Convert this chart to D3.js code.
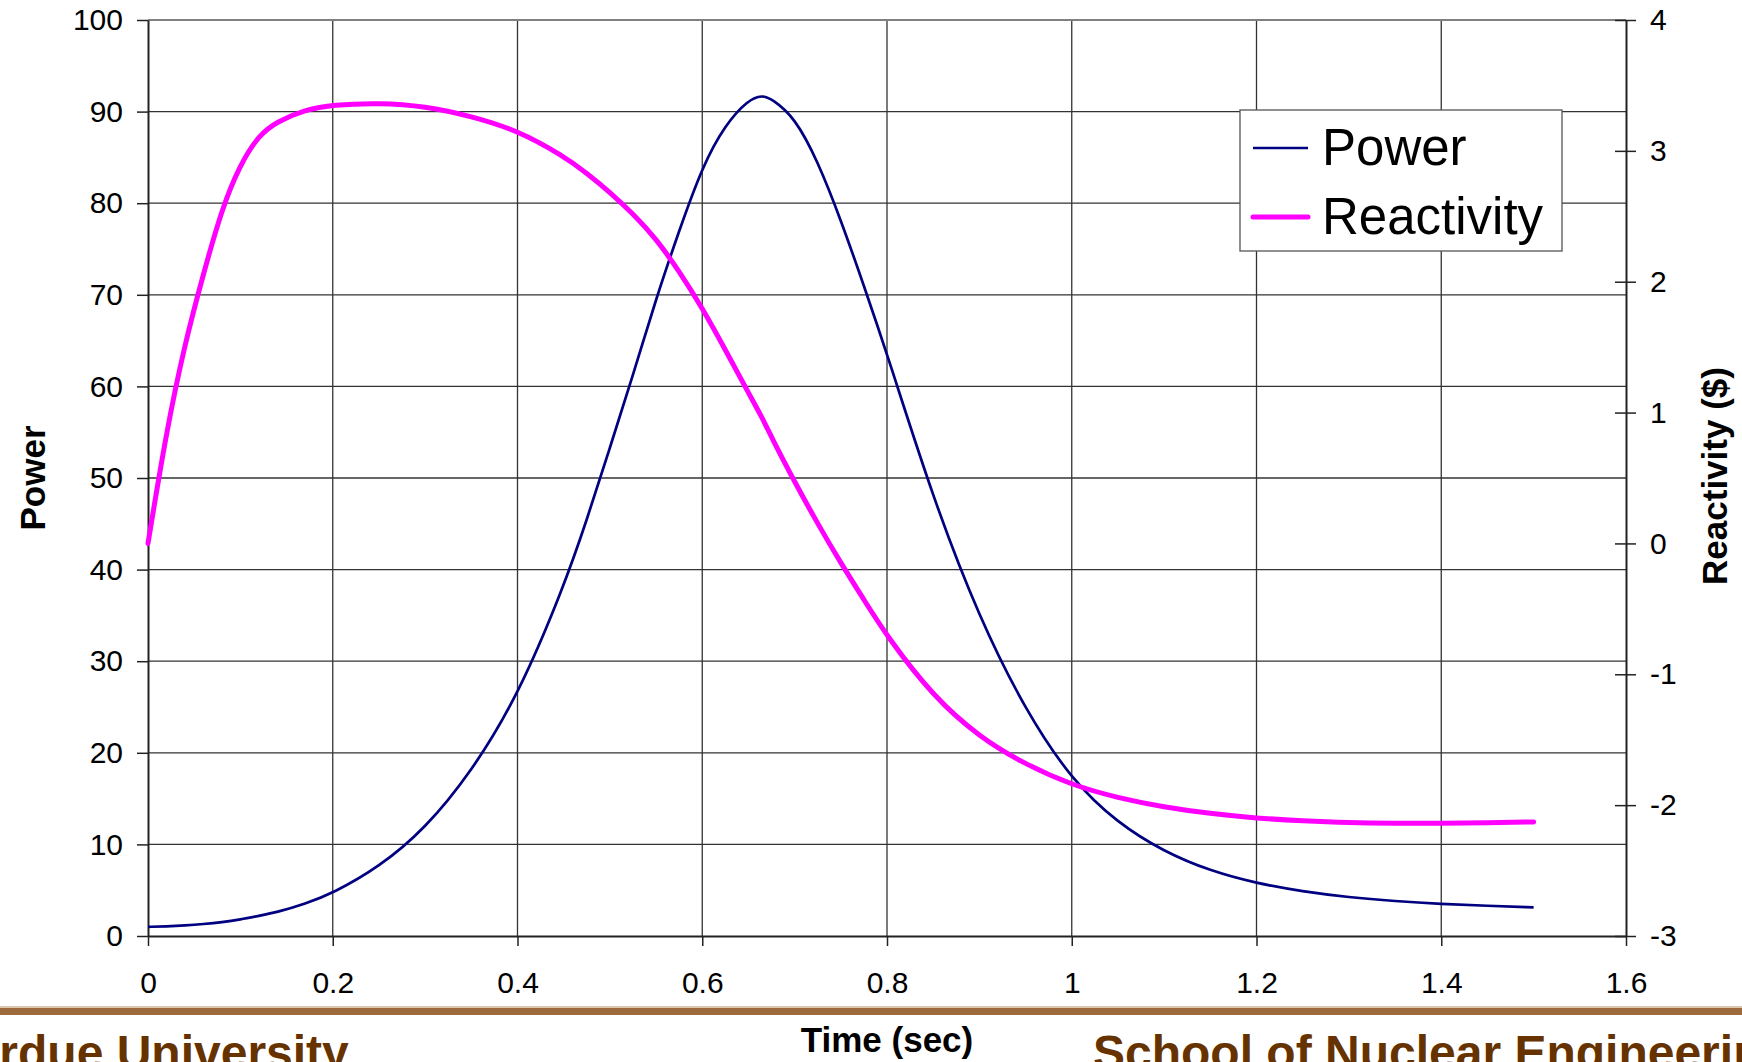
<!DOCTYPE html>
<html lang="en">
<head>
  <meta charset="UTF-8">
  <title>Power and Reactivity</title>
  <script src="https://cdnjs.cloudflare.com/ajax/libs/d3/7.8.5/d3.min.js"></script>
  <style>
    body { margin: 0; background: #fff; overflow: hidden; }
    svg { display: block; font-family: "Liberation Sans", Arial, sans-serif; }
  </style>
</head>
<body>
  <div id="chart"></div>
  <script type="text/javascript">
    // values
    var time = [0, 0.02, 0.04, 0.06, 0.08, 0.1, 0.12, 0.14, 0.17, 0.2, 0.25, 0.3, 0.35, 0.4, 0.45,
      0.475, 0.5, 0.525, 0.55, 0.575, 0.6, 0.625, 0.65, 0.665, 0.675, 0.7, 0.725, 0.75, 0.775,
      0.8, 0.85, 0.9, 0.95, 1.0, 1.05, 1.1, 1.15, 1.2, 1.25, 1.3, 1.35, 1.4, 1.45, 1.5];
    var power = [1.0, 1.05, 1.15, 1.3, 1.5, 1.8, 2.2, 2.6, 3.5, 4.66, 7.5, 11.7, 17.9, 26.1, 38.1,
      45.4, 53.3, 61.2, 69.6, 77.0, 84.0, 88.6, 91.3, 91.8, 91.4, 89.4, 84.6, 78.2, 71.0,
      63.6, 47.7, 34.7, 24.6, 17.0, 12.3, 9.2, 7.1, 5.75, 4.85, 4.22, 3.8, 3.49, 3.3, 3.13];
    var reactivity = [0, 0.86, 1.53, 2.06, 2.56, 2.9, 3.12, 3.225, 3.313, 3.352, 3.367, 3.342, 3.265, 3.157, 2.96,
      2.83, 2.685, 2.52, 2.33, 2.08, 1.80, 1.48, 1.15, 0.96, 0.81, 0.47, 0.15, -0.15, -0.43,
      -0.71, -1.17, -1.48, -1.69, -1.846, -1.945, -2.015, -2.065, -2.1, -2.12, -2.134, -2.138, -2.139, -2.135, -2.128];

    var xTicks = [0, 0.2, 0.4, 0.6, 0.8, 1, 1.2, 1.4, 1.6];
    var powerTicks = [0, 10, 20, 30, 40, 50, 60, 70, 80, 90, 100];
    var reactTicks = [-3, -2, -1, 0, 1, 2, 3, 4];
    var seriesNames = ["Power", "Reactivity"];
    var seriesColors = ["#000080", "#ff00ff"];

    var width = 1742, height = 1062;
    // plot area edges (window.top is reserved, so no bare "top")
    var plotL = 148, plotR = 1626, plotT = 20, plotB = 936;

    var svg = d3.select("#chart").append("svg")
      .attr("width", width)
      .attr("height", height);

    var x = d3.scaleLinear().domain([0, 1.6]).range([plotL, plotR]);
    var yP = d3.scaleLinear().domain([0, 100]).range([plotB, plotT]);
    var yR = d3.scaleLinear().domain([-3, 4]).range([plotB, plotT]);

    // grid
    svg.append("g").selectAll("line")
      .data(powerTicks.slice(1, -1))
      .enter().append("line")
        .attr("x1", plotL).attr("x2", plotR)
        .attr("y1", function (d) { return yP(d); })
        .attr("y2", function (d) { return yP(d); })
        .attr("stroke", "#333").attr("stroke-width", 1.3);
    svg.append("g").selectAll("line")
      .data(xTicks.slice(1, -1))
      .enter().append("line")
        .attr("y1", plotT).attr("y2", plotB)
        .attr("x1", function (d) { return x(d); })
        .attr("x2", function (d) { return x(d); })
        .attr("stroke", "#333").attr("stroke-width", 1.3);

    // top border of the plot area
    svg.append("line")
      .attr("x1", plotL).attr("x2", plotR).attr("y1", plotT).attr("y2", plotT)
      .attr("stroke", "#808080").attr("stroke-width", 2);

    // axes
    var fontTick = "30px";
    var plain = function (d) { return String(d); };
    var gLeft = svg.append("g").attr("transform", "translate(" + plotL + ",0)")
      .call(d3.axisLeft(yP).tickValues(powerTicks).tickSize(11).tickSizeOuter(0).tickPadding(14)
        .tickFormat(plain));
    var gBottom = svg.append("g").attr("transform", "translate(0," + plotB + ")")
      .call(d3.axisBottom(x).tickValues(xTicks).tickSize(10).tickSizeOuter(0).tickPadding(26)
        .tickFormat(plain));
    var gRight = svg.append("g").attr("transform", "translate(" + plotR + ",0)")
      .call(d3.axisRight(yR).tickValues(reactTicks).tickSize(10).tickSizeOuter(0).tickPadding(14)
        .tickFormat(plain));

    [gLeft, gBottom, gRight].forEach(function (g) {
      g.select(".domain").attr("stroke", "#222").attr("stroke-width", 2);
      g.selectAll(".tick line").attr("stroke", "#222").attr("stroke-width", 1.5);
      g.selectAll("text").attr("font-size", fontTick).attr("fill", "#000")
        .attr("font-family", "'Liberation Sans', Arial, sans-serif");
    });
    // right ticks cross the axis
    gRight.selectAll(".tick line").attr("x1", -11);

    // curves
    var pts = time.map(function (t, i) { return { t: t, p: power[i], r: reactivity[i] }; });

    var linePower = d3.line()
      .x(function (d) { return x(d.t); })
      .y(function (d) { return yP(d.p); })
      .curve(d3.curveBasis);
    var lineReact = d3.line()
      .x(function (d) { return x(d.t); })
      .y(function (d) { return yR(d.r); })
      .curve(d3.curveBasis);

    svg.append("path").datum(pts)
      .attr("d", linePower)
      .attr("fill", "none")
      .attr("stroke", seriesColors[0])
      .attr("stroke-width", 2.7);
    svg.append("path").datum(pts)
      .attr("d", lineReact)
      .attr("fill", "none")
      .attr("stroke", seriesColors[1])
      .attr("stroke-width", 5)
      .attr("stroke-linecap", "round");

    // axis titles
    svg.append("text")
      .attr("transform", "translate(45,478) rotate(-90)")
      .attr("text-anchor", "middle")
      .attr("font-size", "35px").attr("font-weight", "bold")
      .text("Power");
    svg.append("text")
      .attr("transform", "translate(1727,476) rotate(-90)")
      .attr("text-anchor", "middle")
      .attr("font-size", "35px").attr("font-weight", "bold")
      .text("Reactivity ($)");
    svg.append("text")
      .attr("x", 887).attr("y", 1052)
      .attr("text-anchor", "middle")
      .attr("font-size", "35px").attr("font-weight", "bold")
      .text("Time (sec)");

    // legend
    var legend = svg.append("g");
    legend.append("rect")
      .attr("x", 1240).attr("y", 110).attr("width", 322).attr("height", 141)
      .attr("fill", "#fff").attr("stroke", "#555").attr("stroke-width", 1.3);
    var rowY = [148, 217];
    var rowW = [2.7, 5];
    seriesNames.forEach(function (name, i) {
      legend.append("line")
        .attr("x1", 1253).attr("x2", 1308)
        .attr("y1", rowY[i]).attr("y2", rowY[i])
        .attr("stroke", seriesColors[i]).attr("stroke-width", rowW[i])
        .attr("stroke-linecap", i ? "round" : "butt");
      legend.append("text")
        .attr("x", 1322).attr("y", rowY[i] + 17)
        .attr("font-size", "51px")
        .text(name);
    });

    // slide footer
    svg.append("rect")
      .attr("x", 0).attr("y", 1006).attr("width", width).attr("height", 2)
      .attr("fill", "#d9c7b0");
    svg.append("rect")
      .attr("x", 0).attr("y", 1008).attr("width", width).attr("height", 7)
      .attr("fill", "#9c6a3c");
    svg.append("text")
      .attr("x", -62).attr("y", 1069)
      .attr("font-size", "48px").attr("font-weight", "bold").attr("fill", "#663300")
      .text("Purdue University");
    svg.append("text")
      .attr("x", 1093).attr("y", 1069)
      .attr("font-size", "48px").attr("font-weight", "bold").attr("fill", "#663300")
      .text("School of Nuclear Engineering");
  </script>
</body>
</html>
